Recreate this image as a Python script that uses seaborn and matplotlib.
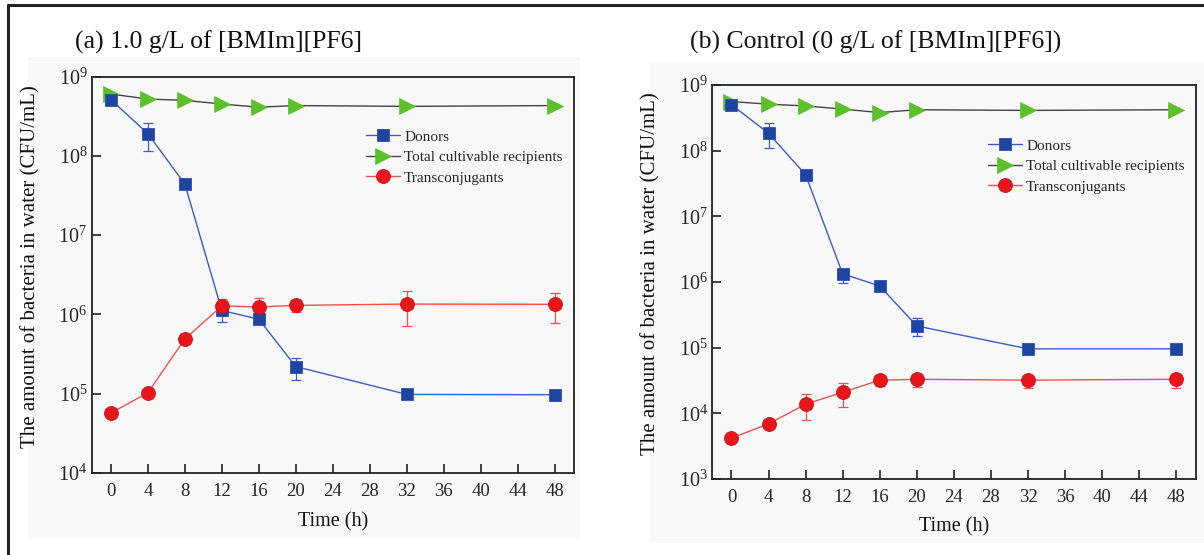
import numpy as np
import pandas as pd
import matplotlib
matplotlib.use("Agg")
import matplotlib.pyplot as plt
import seaborn as sns
from matplotlib.lines import Line2D
from matplotlib.patches import Rectangle

# ---------------- data ----------------
time_h = [0, 4, 8, 12, 16, 20, 32, 48]
xtick_vals = [0, 4, 8, 12, 16, 20, 24, 28, 32, 36, 40, 44, 48]
a_ytick_exps = [4, 5, 6, 7, 8, 9]
b_ytick_exps = [3, 4, 5, 6, 7, 8, 9]

# (a) 1.0 g/L of [BMIm][PF6]
a_donors = [5.1e8, 1.9e8, 4.4e7, 1.12e6, 8.7e5, 2.2e5, 9.8e4, 9.7e4]
a_donors_lo = [np.nan, 1.16e8, np.nan, 8.1e5, np.nan, 1.5e5, np.nan, np.nan]
a_donors_hi = [np.nan, 2.6e8, np.nan, 1.45e6, np.nan, 2.8e5, np.nan, np.nan]
a_recip = [6.0e8, 5.2e8, 5.0e8, 4.5e8, 4.1e8, 4.3e8, 4.2e8, 4.3e8]
a_trans = [5.7e4, 1.03e5, 4.9e5, 1.28e6, 1.24e6, 1.3e6, 1.35e6, 1.34e6]
a_trans_lo = [np.nan, np.nan, np.nan, 9.5e5, 8.5e5, 1.06e6, 7.2e5, 7.8e5]
a_trans_hi = [np.nan, np.nan, np.nan, 1.55e6, 1.6e6, 1.5e6, 2.0e6, 1.87e6]

# (b) Control (0 g/L of [BMIm][PF6])
b_donors = [5.0e8, 1.84e8, 4.3e7, 1.33e6, 8.7e5, 2.14e5, 9.6e4, 9.6e4]
b_donors_lo = [np.nan, 1.09e8, np.nan, 9.8e5, np.nan, 1.5e5, np.nan, np.nan]
b_donors_hi = [np.nan, 2.6e8, np.nan, 1.6e6, np.nan, 2.8e5, np.nan, np.nan]
b_recip = [5.6e8, 5.1e8, 4.8e8, 4.3e8, 3.8e8, 4.2e8, 4.1e8, 4.2e8]
b_trans = [4.2e3, 6.9e3, 1.38e4, 2.09e4, 3.2e4, 3.3e4, 3.2e4, 3.3e4]
b_trans_lo = [np.nan, np.nan, 7.8e3, 1.26e4, 2.6e4, 2.5e4, 2.4e4, 2.4e4]
b_trans_hi = [np.nan, np.nan, 1.98e4, 2.9e4, 3.7e4, 4.0e4, 3.9e4, 4.0e4]

series_names = ["Donors", "Total cultivable recipients", "Transconjugants"]
titles = ["(a) 1.0 g/L of [BMIm][PF6]", "(b) Control (0 g/L of [BMIm][PF6])"]
ylabel = "The amount of bacteria in water (CFU/mL)"
xlabel = "Time (h)"

# ---------------- style ----------------
sns.set_theme(style="ticks")
plt.rcParams["font.family"] = ["Liberation Serif", "DejaVu Serif"]
plt.rcParams["mathtext.fontset"] = "custom"
plt.rcParams["mathtext.rm"] = "Liberation Serif"
plt.rcParams["mathtext.it"] = "Liberation Serif:italic"
plt.rcParams["axes.unicode_minus"] = False

W, H = 1204, 555
fig = plt.figure(figsize=(W / 100, H / 100), dpi=100)
fig.patch.set_facecolor("white")

def fx(px):
    return px / W

def fy(py):
    return 1 - py / H

# light grey background of the pasted panels
fig.patches.append(Rectangle((fx(28), fy(538)), fx(580) - fx(28), fy(57) - fy(538),
                             transform=fig.transFigure, facecolor="#f8f8f8",
                             edgecolor="none", zorder=-10))
fig.patches.append(Rectangle((fx(650), fy(543)), fx(1204) - fx(650), fy(63) - fy(543),
                             transform=fig.transFigure, facecolor="#f8f8f8",
                             edgecolor="none", zorder=-10))
# outer frame (left and top edges visible)
fig.add_artist(Line2D([fx(8), fx(8)], [fy(5), 0], transform=fig.transFigure,
                      color="#222222", lw=2.2))
fig.add_artist(Line2D([fx(8), 1], [fy(5), fy(5)], transform=fig.transFigure,
                      color="#222222", lw=2.2))

blue = "#1f44a0"
blue_line = "#3a5bc9"
green = "#5cc02a"
grey_line = "#444444"
red = "#e8161b"
red_line = "#f05050"

panels = [
    dict(rect=(fx(91.5), fy(473), fx(574) - fx(91.5), fy(76.5) - fy(473)),
         ylim=(1e4, 1e9), yexps=a_ytick_exps, title_xy=(75, 42),
         donors=(a_donors, a_donors_lo, a_donors_hi), recip=a_recip,
         trans=(a_trans, a_trans_lo, a_trans_hi), leg=(366, 130)),
    dict(rect=(fx(712), fy(479), fx(1195.7) - fx(712), fy(85) - fy(479)),
         ylim=(1e3, 1e9), yexps=b_ytick_exps, title_xy=(690, 42),
         donors=(b_donors, b_donors_lo, b_donors_hi), recip=b_recip,
         trans=(b_trans, b_trans_lo, b_trans_hi), leg=(988, 139)),
]

for i, p in enumerate(panels):
    ax = fig.add_axes(p["rect"])
    ax.set_facecolor("none")
    ax.set_yscale("log")

    d, dlo, dhi = p["donors"]
    t, tlo, thi = p["trans"]

    df = pd.DataFrame({
        "time": time_h * 3,
        "value": list(d) + list(p["recip"]) + list(t),
        "series": [series_names[0]] * 8 + [series_names[1]] * 8 + [series_names[2]] * 8,
    })

    # error bars
    d_arr = np.array(d); t_arr = np.array(t)
    ax.errorbar(time_h, d_arr, yerr=[d_arr - np.array(dlo), np.array(dhi) - d_arr],
                fmt="none", ecolor=blue_line, elinewidth=0.9, capsize=3.5, capthick=0.9, zorder=2)
    ax.errorbar(time_h, t_arr, yerr=[t_arr - np.array(tlo), np.array(thi) - t_arr],
                fmt="none", ecolor=red_line, elinewidth=0.9, capsize=3.5, capthick=0.9, zorder=2)

    sns.lineplot(data=df[df.series == series_names[0]], x="time", y="value", ax=ax,
                 color=blue_line, lw=1.0, marker="s", markersize=8.5,
                 markerfacecolor=blue, markeredgecolor="#2a4fb8", markeredgewidth=0.6,
                 zorder=4, label=series_names[0])
    sns.lineplot(data=df[df.series == series_names[1]], x="time", y="value", ax=ax,
                 color=grey_line, lw=1.0, marker=">", markersize=11.5,
                 markerfacecolor=green, markeredgecolor=green, markeredgewidth=0.5,
                 zorder=3, label=series_names[1])
    sns.lineplot(data=df[df.series == series_names[2]], x="time", y="value", ax=ax,
                 color=red_line, lw=1.0, marker="o", markersize=10,
                 markerfacecolor=red, markeredgecolor="#c40f14", markeredgewidth=0.6,
                 zorder=5, label=series_names[2])

    ax.set_xlim(-2.1, 50.1)
    ax.set_ylim(*p["ylim"])
    ax.set_xticks(xtick_vals)
    ax.set_xticklabels([str(v) for v in xtick_vals])
    yt = [10.0 ** e for e in p["yexps"]]
    ax.set_yticks(yt)
    ax.set_yticklabels([r"$\mathdefault{10^{%d}}$" % e for e in p["yexps"]])
    ax.yaxis.set_minor_locator(matplotlib.ticker.NullLocator())
    ax.tick_params(axis="both", which="major", direction="in", length=6.5, width=1.2,
                   color="#222222")
    ax.tick_params(axis="x", labelsize=13.5, pad=7, top=False)
    ax.tick_params(axis="y", labelsize=14.5, pad=3, right=False)
    for s in ax.spines.values():
        s.set_visible(True)
        s.set_linewidth(1.3)
        s.set_color("#222222")

    ax.set_xlabel(xlabel, fontsize=14.5, color="#111111")
    ax.set_ylabel(ylabel, fontsize=15, color="#111111")
    ax.xaxis.set_label_coords(0.5, -0.098)
    ax.yaxis.set_label_coords(-0.106, 0.52)

    lx, ly = p["leg"]
    ax.legend(loc="upper left", bbox_to_anchor=(fx(lx), fy(ly)),
              bbox_transform=fig.transFigure, frameon=False, fontsize=11,
              handlelength=2.2, handletextpad=0.3, borderpad=0, borderaxespad=0,
              labelspacing=0.45)

    fig.text(fx(p["title_xy"][0]), fy(p["title_xy"][1]), titles[i], fontsize=18.5,
             ha="left", va="center", color="#111111")

fig.savefig("out.png", dpi=100)
